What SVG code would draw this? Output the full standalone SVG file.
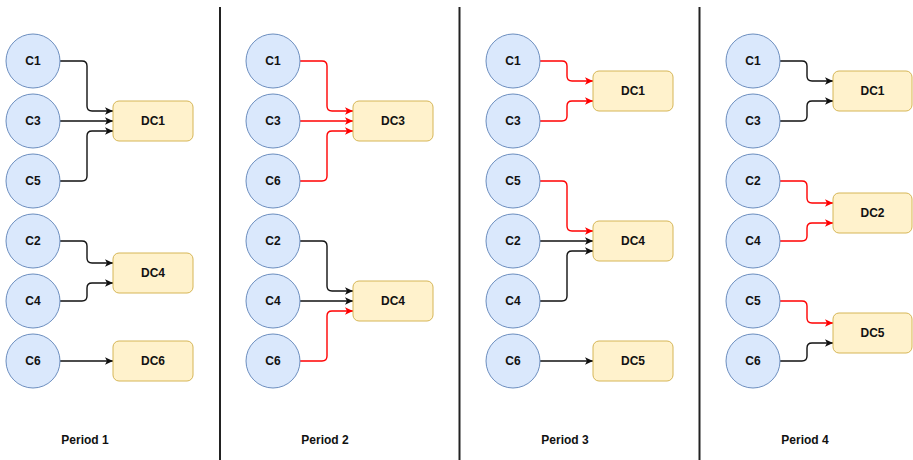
<svg xmlns="http://www.w3.org/2000/svg" width="913" height="460" viewBox="0 0 913 460">
  <style>
    .cust { fill: #dae8fc; stroke: #6c8ebf; stroke-width: 1; }
    .dc { fill: #fff2cc; stroke: #d6b656; stroke-width: 1; }
    .lbl { font-family: "Liberation Sans", Arial, sans-serif; font-weight: bold; font-size: 12px; fill: #111; text-anchor: middle; dominant-baseline: central; }
    .per { font-family: "Liberation Sans", Arial, sans-serif; font-weight: bold; font-size: 12px; fill: #111; text-anchor: middle; }
    .e { fill: none; stroke: #111; stroke-width: 1.4; marker-end: url(#ah); }
    .r { fill: none; stroke: #ff0000; stroke-width: 1.4; marker-end: url(#ahr); }
    .sep { stroke: #222; stroke-width: 2; }
  </style>
  <defs>
    <marker id="ah" markerUnits="userSpaceOnUse" markerWidth="10" markerHeight="10" viewBox="0 0 10 10" refX="9" refY="5" orient="auto">
      <path d="M1,1.2 L9,5 L1,8.8 L3,5 z" fill="#111"/>
    </marker>
    <marker id="ahr" markerUnits="userSpaceOnUse" markerWidth="10" markerHeight="10" viewBox="0 0 10 10" refX="9" refY="5" orient="auto">
      <path d="M1,1.2 L9,5 L1,8.8 L3,5 z" fill="#ff0000"/>
    </marker>
  </defs>

  <!-- panel separators -->
  <g id="separators">
    <line class="sep" x1="220" y1="7" x2="220" y2="460"/>
    <line class="sep" x1="459.5" y1="7" x2="459.5" y2="460"/>
    <line class="sep" x1="699.5" y1="7" x2="699.5" y2="460"/>
  </g>

  <!-- connectors -->
  <g id="connectors">
    <!-- period 1 -->
    <path class="e" d="M60,61 H82 Q87,61 87,66 V106 Q87,111 92,111 H113"/>
    <path class="e" d="M60,121 H113"/>
    <path class="e" d="M60,181 H82 Q87,181 87,176 V136 Q87,131 92,131 H113"/>
    <path class="e" d="M60,241 H82 Q87,241 87,246 V258 Q87,263 92,263 H113"/>
    <path class="e" d="M60,301 H82 Q87,301 87,296 V288 Q87,283 92,283 H113"/>
    <path class="e" d="M60,361 H113"/>
    <!-- period 2 -->
    <path class="r" d="M300,61 H322 Q327,61 327,66 V106 Q327,111 332,111 H353"/>
    <path class="r" d="M300,121 H353"/>
    <path class="r" d="M300,181 H322 Q327,181 327,176 V136 Q327,131 332,131 H353"/>
    <path class="e" d="M300,241 H322 Q327,241 327,246 V286 Q327,291 332,291 H353"/>
    <path class="e" d="M300,301 H353"/>
    <path class="r" d="M300,361 H322 Q327,361 327,356 V316 Q327,311 332,311 H353"/>
    <!-- period 3 -->
    <path class="r" d="M540,61 H562 Q567,61 567,66 V76 Q567,81 572,81 H593"/>
    <path class="r" d="M540,121 H562 Q567,121 567,116 V106 Q567,101 572,101 H593"/>
    <path class="r" d="M540,181 H562 Q567,181 567,186 V226 Q567,231 572,231 H593"/>
    <path class="e" d="M540,241 H593"/>
    <path class="e" d="M540,301 H562 Q567,301 567,296 V256 Q567,251 572,251 H593"/>
    <path class="e" d="M540,361 H593"/>
    <!-- period 4 -->
    <path class="e" d="M780,61 H802 Q807,61 807,66 V76 Q807,81 812,81 H833"/>
    <path class="e" d="M780,121 H802 Q807,121 807,116 V106 Q807,101 812,101 H833"/>
    <path class="r" d="M780,181 H802 Q807,181 807,186 V198 Q807,203 812,203 H833"/>
    <path class="r" d="M780,241 H802 Q807,241 807,236 V228 Q807,223 812,223 H833"/>
    <path class="r" d="M780,301 H802 Q807,301 807,306 V318 Q807,323 812,323 H833"/>
    <path class="e" d="M780,361 H802 Q807,361 807,356 V348 Q807,343 812,343 H833"/>
  </g>

  <!-- period 1 nodes -->
  <g id="p1-c1"><circle class="cust" cx="33" cy="61" r="27"/><text class="lbl" x="33" y="61">C1</text></g>
  <g id="p1-c3"><circle class="cust" cx="33" cy="121" r="27"/><text class="lbl" x="33" y="121">C3</text></g>
  <g id="p1-c5"><circle class="cust" cx="33" cy="181" r="27"/><text class="lbl" x="33" y="181">C5</text></g>
  <g id="p1-c2"><circle class="cust" cx="33" cy="241" r="27"/><text class="lbl" x="33" y="241">C2</text></g>
  <g id="p1-c4"><circle class="cust" cx="33" cy="301" r="27"/><text class="lbl" x="33" y="301">C4</text></g>
  <g id="p1-c6"><circle class="cust" cx="33" cy="361" r="27"/><text class="lbl" x="33" y="361">C6</text></g>
  <g id="p1-dc1"><rect class="dc" x="113" y="101" width="80" height="40" rx="6"/><text class="lbl" x="153" y="121">DC1</text></g>
  <g id="p1-dc4"><rect class="dc" x="113" y="253" width="80" height="40" rx="6"/><text class="lbl" x="153" y="273">DC4</text></g>
  <g id="p1-dc6"><rect class="dc" x="113" y="341" width="80" height="40" rx="6"/><text class="lbl" x="153" y="361">DC6</text></g>

  <!-- period 2 nodes -->
  <g id="p2-c1"><circle class="cust" cx="273" cy="61" r="27"/><text class="lbl" x="273" y="61">C1</text></g>
  <g id="p2-c3"><circle class="cust" cx="273" cy="121" r="27"/><text class="lbl" x="273" y="121">C3</text></g>
  <g id="p2-c6a"><circle class="cust" cx="273" cy="181" r="27"/><text class="lbl" x="273" y="181">C6</text></g>
  <g id="p2-c2"><circle class="cust" cx="273" cy="241" r="27"/><text class="lbl" x="273" y="241">C2</text></g>
  <g id="p2-c4"><circle class="cust" cx="273" cy="301" r="27"/><text class="lbl" x="273" y="301">C4</text></g>
  <g id="p2-c6b"><circle class="cust" cx="273" cy="361" r="27"/><text class="lbl" x="273" y="361">C6</text></g>
  <g id="p2-dc3"><rect class="dc" x="353" y="101" width="80" height="40" rx="6"/><text class="lbl" x="393" y="121">DC3</text></g>
  <g id="p2-dc4"><rect class="dc" x="353" y="281" width="80" height="40" rx="6"/><text class="lbl" x="393" y="301">DC4</text></g>

  <!-- period 3 nodes -->
  <g id="p3-c1"><circle class="cust" cx="513" cy="61" r="27"/><text class="lbl" x="513" y="61">C1</text></g>
  <g id="p3-c3"><circle class="cust" cx="513" cy="121" r="27"/><text class="lbl" x="513" y="121">C3</text></g>
  <g id="p3-c5"><circle class="cust" cx="513" cy="181" r="27"/><text class="lbl" x="513" y="181">C5</text></g>
  <g id="p3-c2"><circle class="cust" cx="513" cy="241" r="27"/><text class="lbl" x="513" y="241">C2</text></g>
  <g id="p3-c4"><circle class="cust" cx="513" cy="301" r="27"/><text class="lbl" x="513" y="301">C4</text></g>
  <g id="p3-c6"><circle class="cust" cx="513" cy="361" r="27"/><text class="lbl" x="513" y="361">C6</text></g>
  <g id="p3-dc1"><rect class="dc" x="593" y="71" width="80" height="40" rx="6"/><text class="lbl" x="633" y="91">DC1</text></g>
  <g id="p3-dc4"><rect class="dc" x="593" y="221" width="80" height="40" rx="6"/><text class="lbl" x="633" y="241">DC4</text></g>
  <g id="p3-dc5"><rect class="dc" x="593" y="341" width="80" height="40" rx="6"/><text class="lbl" x="633" y="361">DC5</text></g>

  <!-- period 4 nodes -->
  <g id="p4-c1"><circle class="cust" cx="753" cy="61" r="27"/><text class="lbl" x="753" y="61">C1</text></g>
  <g id="p4-c3"><circle class="cust" cx="753" cy="121" r="27"/><text class="lbl" x="753" y="121">C3</text></g>
  <g id="p4-c2"><circle class="cust" cx="753" cy="181" r="27"/><text class="lbl" x="753" y="181">C2</text></g>
  <g id="p4-c4"><circle class="cust" cx="753" cy="241" r="27"/><text class="lbl" x="753" y="241">C4</text></g>
  <g id="p4-c5"><circle class="cust" cx="753" cy="301" r="27"/><text class="lbl" x="753" y="301">C5</text></g>
  <g id="p4-c6"><circle class="cust" cx="753" cy="361" r="27"/><text class="lbl" x="753" y="361">C6</text></g>
  <g id="p4-dc1"><rect class="dc" x="833" y="71" width="79" height="40" rx="6"/><text class="lbl" x="872.5" y="91">DC1</text></g>
  <g id="p4-dc2"><rect class="dc" x="833" y="193" width="79" height="40" rx="6"/><text class="lbl" x="872.5" y="213">DC2</text></g>
  <g id="p4-dc5"><rect class="dc" x="833" y="313" width="79" height="40" rx="6"/><text class="lbl" x="872.5" y="333">DC5</text></g>

  <!-- period captions -->
  <g id="captions">
    <text class="per" x="85" y="444">Period 1</text>
    <text class="per" x="325" y="444">Period 2</text>
    <text class="per" x="565" y="444">Period 3</text>
    <text class="per" x="805" y="444">Period 4</text>
  </g>
</svg>
